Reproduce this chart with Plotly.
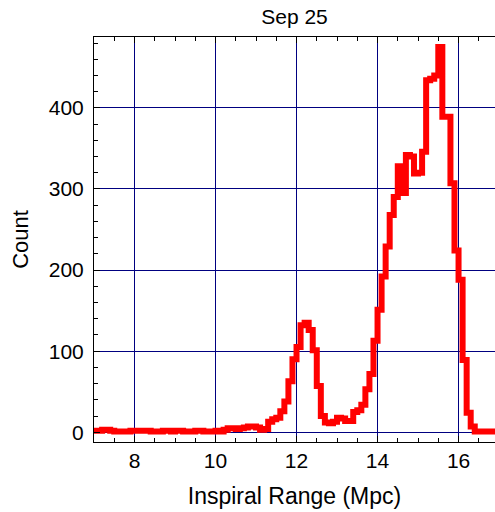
import plotly.graph_objects as go

# Histogram of inspiral range, bins of 0.1 Mpc starting at 7.0
BIN_START = 7.0
BIN_WIDTH = 0.1
COUNTS = [
    2, 2, 3, 3, 2, 1, 1, 1, 1, 2,      # 7.0 - 8.0
    2, 2, 2, 2, 1, 1, 1, 2, 2, 1,      # 8.0 - 9.0
    2, 2, 1, 1, 1, 2, 2, 1, 1, 1,      # 9.0 - 10.0
    2, 1, 3, 5, 5, 4, 5, 6, 7, 7,      # 10.0 - 11.0
    6, 3, 4, 13, 16, 18, 26, 38, 63, 90,   # 11.0 - 12.0
    105, 132, 135, 126, 101, 57, 20, 12, 11, 13,  # 12.0 - 13.0
    18, 17, 14, 14, 25, 27, 34, 53, 72, 113,     # 13.0 - 14.0
    151, 192, 229, 268, 290, 328, 295, 342, 340, 319,  # 14.0 - 15.0
    320, 346, 434, 436, 440, 475, 389, 389, 307, 224,  # 15.0 - 16.0
    188, 89, 24, 7, 1, 1, 1, 1, 1,                 # 16.0 - 16.9
]
TITLE = "Sep 25"
X_LABEL = "Inspiral Range (Mpc)"
Y_LABEL = "Count"
X_TICKS = [8, 10, 12, 14, 16]
Y_TICKS = [0, 100, 200, 300, 400]

edges = [BIN_START + BIN_WIDTH * i for i in range(len(COUNTS) + 1)]
ys = COUNTS + [COUNTS[-1]]

FONT = "Liberation Sans, Arial, sans-serif"
GRID = "#000080"

fig = go.Figure()
fig.add_trace(go.Scatter(
    x=edges, y=ys, mode="lines",
    line=dict(color="#ff0000", width=6, shape="hv"),
    showlegend=False, hoverinfo="skip",
))

fig.update_layout(
    width=495, height=512,
    margin=dict(l=94, r=0, t=37, b=70, autoexpand=False),
    paper_bgcolor="white", plot_bgcolor="white",
    font=dict(family=FONT, color="black", size=20),
    title=dict(text=TITLE, x=(94 + 495) / 2 / 495, xanchor="center",
               y=1 - 17 / 512, yanchor="middle", yref="container",
               font=dict(size=21, family=FONT, color="black")),
)
fig.update_xaxes(
    range=[7, 16.9], tickvals=X_TICKS, ticktext=[str(v) for v in X_TICKS],
    ticks="inside", ticklen=6, tickcolor="black", tickwidth=1,
    showline=True, linecolor="black", linewidth=1, mirror="allticks",
    showgrid=True, gridcolor=GRID, gridwidth=1, zeroline=False, automargin=False,
    minor=dict(dtick=0.5, tick0=7, ticks="inside", ticklen=4, tickcolor="black", showgrid=False),
    tickfont=dict(size=21, family=FONT),
    title=dict(text=X_LABEL, font=dict(size=23, family=FONT), standoff=16),
)
fig.update_yaxes(
    range=[-12, 487.4], tickvals=Y_TICKS, ticktext=[str(v) for v in Y_TICKS],
    ticks="inside", ticklen=6, tickcolor="black", tickwidth=1,
    showline=True, linecolor="black", linewidth=1, mirror=False,
    showgrid=True, gridcolor=GRID, gridwidth=1, zeroline=False, automargin=False,
    minor=dict(dtick=20, tick0=0, ticks="inside", ticklen=4, tickcolor="black", showgrid=False),
    tickfont=dict(size=21, family=FONT), ticklabelstandoff=5,
    title=dict(text=Y_LABEL, font=dict(size=22, family=FONT), standoff=14),
)

fig.write_html("out.html", config={"displayModeBar": False},
               post_script="document.body.style.margin='0px';")
